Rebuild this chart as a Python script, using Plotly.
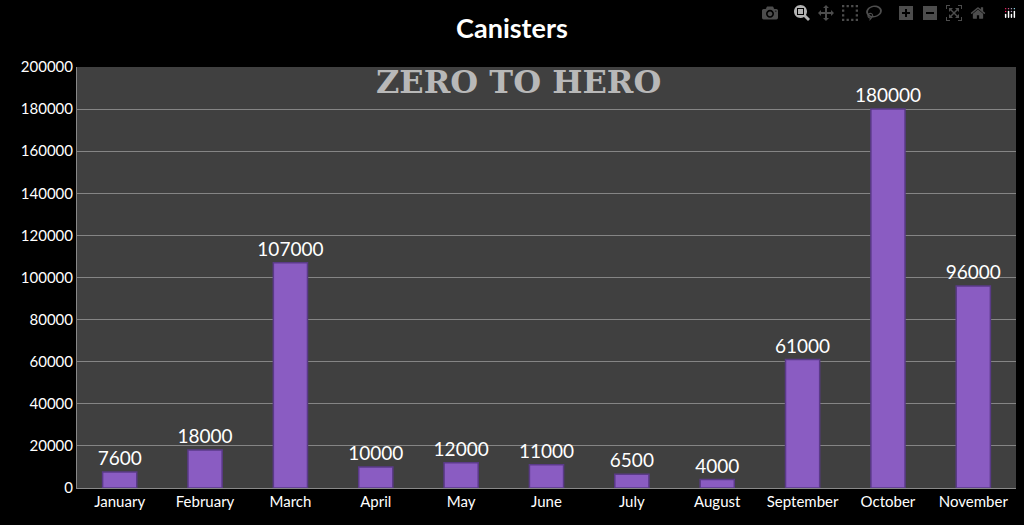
import plotly.graph_objects as go

months = ["January","February","March","April","May","June","July","August","September","October","November"]
values = [7600,18000,107000,10000,12000,11000,6500,4000,61000,180000,96000]
y_ticks = list(range(0, 200001, 20000))

fig = go.Figure(go.Bar(
    x=months, y=values, width=0.4,
    marker=dict(color="#8a5cc2", line=dict(color="#5a3a88", width=1.5)),
    text=[str(v) for v in values], textposition="outside", cliponaxis=False,
    textfont=dict(color="white", size=19, family="Lato"),
))
fig.update_layout(
    width=1024, height=525,
    paper_bgcolor="black", plot_bgcolor="#404040",
    margin=dict(l=77, r=8, t=67, b=37),
    uniformtext=dict(minsize=19, mode="show"),
    title=dict(text="<b>Canisters</b>", x=0.5, xanchor="center", y=0.945, yanchor="middle",
               font=dict(color="white", size=27, family="Lato")),
    font=dict(family="Lato", color="white", size=15),
    showlegend=False,
    annotations=[dict(text="<b>ZERO TO HERO</b>", xref="paper", yref="paper", x=0.47, y=0.965,
                      xanchor="center", yanchor="middle", showarrow=False,
                      font=dict(family="DejaVu Serif", size=32, color="#b8b8b8"))],
)
fig.update_xaxes(showgrid=False, showline=True, linecolor="#888", ticks="", tickfont=dict(size=15, color="white"))
fig.update_yaxes(range=[0, 200000], tickvals=y_ticks, tickformat="d", showgrid=True, gridcolor="#858585", gridwidth=1,
                 zeroline=False, showline=True, linecolor="#888", tickfont=dict(size=15, color="white"))
fig.write_html("out.html", post_script="document.body.style.margin='0';document.body.style.background='black';")
